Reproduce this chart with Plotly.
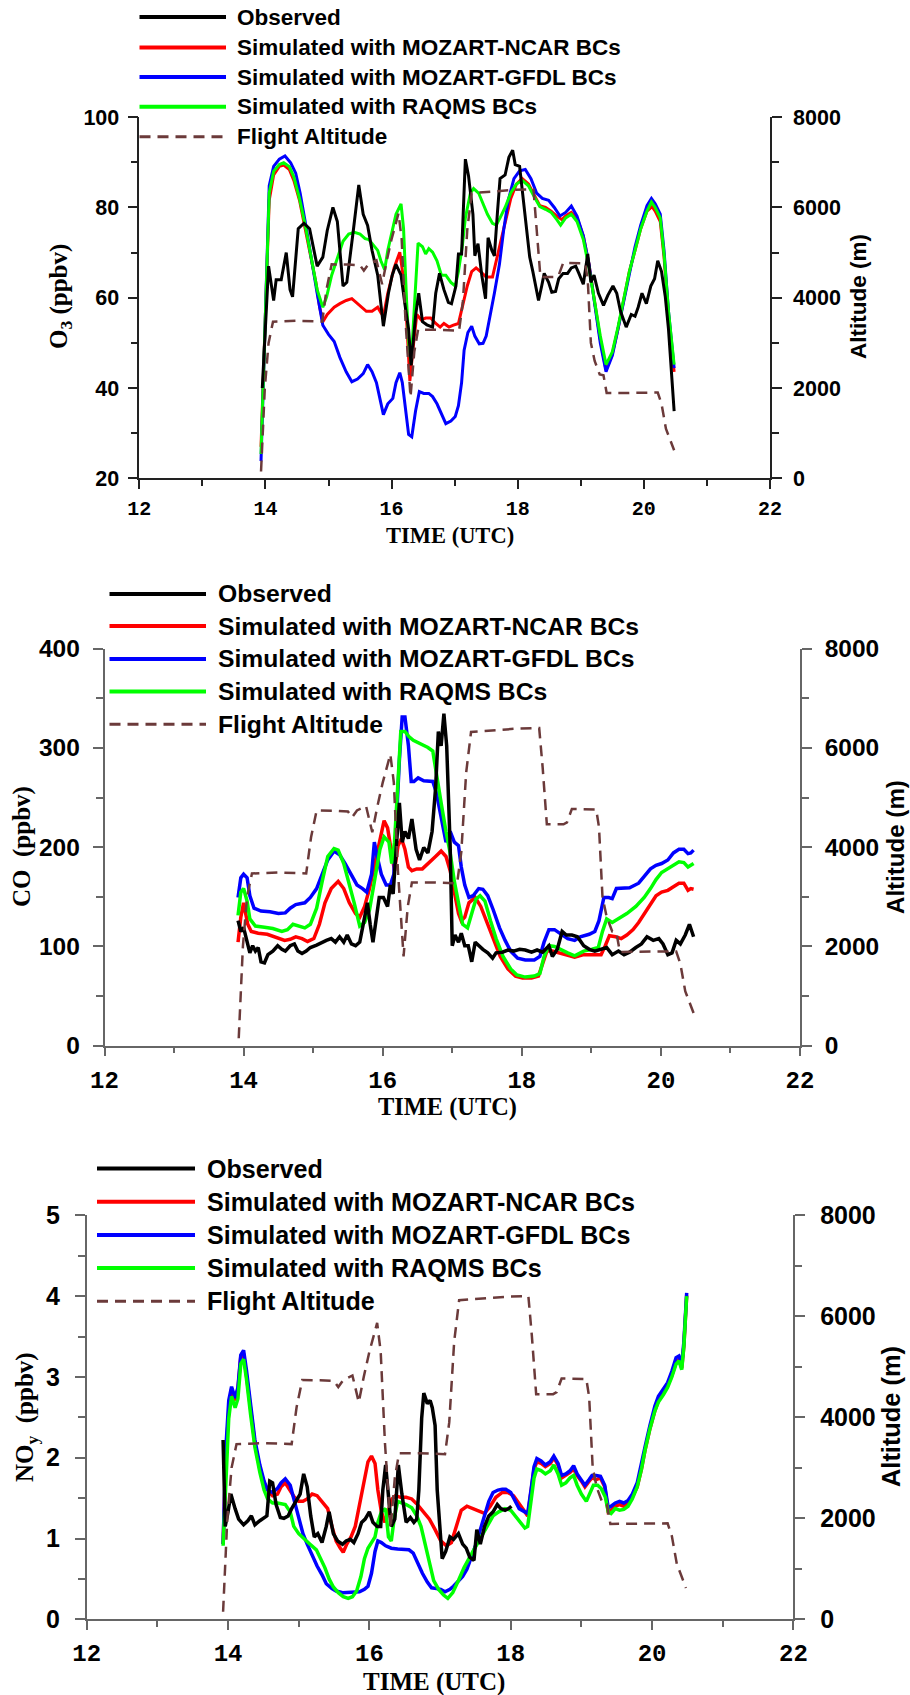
import plotly.graph_objects as go

W, H = 910, 1695

# ---------------- DATA (time in UTC hours) ----------------
legend_labels = ["Observed", "Simulated with MOZART-NCAR BCs",
                 "Simulated with MOZART-GFDL BCs", "Simulated with RAQMS BCs",
                 "Flight Altitude"]

flight_time = [13.93, 13.99, 14.05, 14.12, 14.50, 14.90, 14.97, 15.05, 15.30, 15.50, 15.56, 15.63,
               15.76, 15.85, 15.92, 16.00, 16.11, 16.16, 16.22, 16.30, 16.36, 16.42, 16.70, 17.07,
               17.13, 17.20, 17.27, 17.60, 17.95, 18.25, 18.30, 18.36, 18.60, 18.65, 18.72, 19.07,
               19.11, 19.16, 19.22, 19.30, 19.36, 19.41, 19.70, 20.00, 20.22, 20.28, 20.35, 20.48]
flight_altitude = [150, 2000, 3000, 3470, 3490, 3470, 4200, 4740, 4735, 4720, 4600, 4740,
                   4830, 4300, 4800, 5300, 5870, 5300, 3500, 1800, 2800, 3290, 3290, 3270,
                   3900, 5500, 6320, 6360, 6390, 6400, 5600, 4460, 4460, 4500, 4770, 4760,
                   4400, 3000, 2600, 2300, 2280, 1890, 1890, 1890, 1900, 1650, 1100, 620]

# O3 (ppbv)
o3_observed = [(13.95, 40), (14.05, 67), (14.13, 59.4), (14.17, 64), (14.25, 64), (14.33, 70), (14.39, 61.8),
    (14.43, 60.2), (14.52, 75.3), (14.61, 76.5), (14.70, 75.3), (14.82, 67), (14.91, 69), (14.98, 74.9),
    (15.07, 80), (15.14, 76.9), (15.23, 62.6), (15.29, 63.4), (15.39, 74.5), (15.48, 85), (15.55, 78.5),
    (15.62, 76), (15.69, 70.5), (15.78, 65), (15.83, 58.7), (15.87, 53.7), (15.95, 61), (16.01, 65),
    (16.07, 67.4), (16.15, 65), (16.21, 58.7), (16.27, 53), (16.31, 45), (16.38, 56), (16.43, 61),
    (16.49, 54.7), (16.56, 54), (16.65, 53.5), (16.70, 61), (16.76, 65.4), (16.83, 61.8), (16.90, 59),
    (16.95, 58.7), (17.02, 62.6), (17.06, 69.7), (17.11, 69.7), (17.17, 90.7), (17.22, 87), (17.29, 78.5),
    (17.32, 69.3), (17.37, 72), (17.43, 65), (17.49, 59.8), (17.53, 73.3), (17.59, 70.5), (17.63, 69.3),
    (17.68, 79.2), (17.72, 86.4), (17.80, 87.2), (17.86, 91.1), (17.92, 92.7), (17.96, 89.5), (18.03, 89.1),
    (18.09, 81.6), (18.15, 75.3), (18.19, 69), (18.24, 65.8), (18.28, 62.6), (18.33, 59.4), (18.38, 62.6),
    (18.42, 65.4), (18.49, 63.4), (18.54, 61.2), (18.60, 61.4), (18.65, 64.2), (18.72, 65.4), (18.79, 65.4),
    (18.85, 66.6), (18.92, 67), (18.97, 65.4), (19.04, 63), (19.11, 69.7), (19.16, 63.4), (19.21, 65),
    (19.28, 61), (19.36, 58.3), (19.43, 60.6), (19.51, 62.6), (19.57, 61), (19.63, 57), (19.72, 53.5),
    (19.80, 56.3), (19.86, 55.9), (19.91, 57.9), (19.97, 61), (20.04, 58.7), (20.11, 62.6), (20.17, 64.2),
    (20.22, 68.2), (20.28, 65.8), (20.34, 60.2), (20.39, 53.1), (20.43, 44.4), (20.48, 34.9)]
o3_ncar = [(13.93, 27), (13.99, 50.7), (14.06, 81.6), (14.13, 87.2), (14.22, 89.1), (14.29, 89.4), (14.38, 88.4),
    (14.45, 86), (14.54, 81.6), (14.63, 75.3), (14.72, 69), (14.80, 63.4), (14.86, 57.9), (14.91, 54.7),
    (14.98, 56.3), (15.09, 57.9), (15.18, 58.7), (15.28, 59.4), (15.37, 59.8), (15.44, 59), (15.52, 57.9),
    (15.60, 57), (15.69, 57), (15.78, 57.9), (15.83, 56.7), (15.87, 55.9), (15.94, 61), (16.04, 66.6),
    (16.13, 70.1), (16.19, 64.2), (16.24, 54.7), (16.29, 41.6), (16.35, 50), (16.40, 56.3), (16.47, 55.1),
    (16.54, 55.5), (16.62, 55.5), (16.70, 54.3), (16.77, 53.5), (16.83, 54.3), (16.91, 53.5), (16.97, 53.9),
    (17.06, 54.3), (17.13, 58.7), (17.20, 62.6), (17.27, 65.8), (17.34, 66.6), (17.41, 65.8), (17.50, 64.6),
    (17.60, 64.6), (17.66, 68.2), (17.72, 72.1), (17.80, 76.9), (17.89, 82), (17.98, 85.2), (18.07, 86.4),
    (18.17, 85.2), (18.26, 82.8), (18.35, 80.4), (18.44, 80), (18.53, 79.2), (18.62, 78.1), (18.70, 77.3),
    (18.76, 78.1), (18.85, 78.9), (18.94, 77.7), (19.04, 73.7), (19.13, 67.4), (19.22, 59.4), (19.31, 50.7),
    (19.40, 44), (19.50, 47.6), (19.59, 53.1), (19.68, 59.4), (19.77, 65.8), (19.86, 70.5), (19.95, 75.3),
    (20.05, 79.2), (20.13, 80.2), (20.18, 79.2), (20.26, 76.9), (20.32, 69), (20.39, 56.3), (20.48, 43.6)]
o3_gfdl = [(13.93, 23.8), (13.99, 50), (14.06, 84.8), (14.13, 89.1), (14.22, 90.7), (14.31, 91.4), (14.40, 89.9),
    (14.48, 87.6), (14.55, 83.2), (14.63, 76.9), (14.72, 69), (14.82, 61), (14.91, 53.9), (15.00, 51.9),
    (15.09, 50.3), (15.18, 46.8), (15.28, 43.6), (15.37, 41.4), (15.46, 42), (15.55, 43.2), (15.62, 45.2),
    (15.69, 43.6), (15.76, 41.2), (15.82, 37.3), (15.87, 34.1), (15.94, 36.5), (16.02, 37.7), (16.07, 41.2),
    (16.13, 43.4), (16.17, 41.2), (16.22, 34.9), (16.27, 29.7), (16.32, 29.2), (16.38, 34.9), (16.44, 39.2),
    (16.51, 38.8), (16.59, 38.8), (16.65, 38.1), (16.72, 36.5), (16.79, 34.1), (16.86, 32.1), (16.94, 32.7),
    (17.01, 33.7), (17.06, 36.1), (17.11, 41.2), (17.15, 48.4), (17.21, 52.3), (17.27, 53.7), (17.32, 51.5),
    (17.39, 49.8), (17.45, 49.9), (17.50, 51.5), (17.57, 56.3), (17.63, 61), (17.71, 67.4), (17.78, 75.3),
    (17.85, 81.6), (17.94, 86.4), (18.03, 88.1), (18.12, 88.4), (18.21, 86.4), (18.30, 83.2), (18.39, 82),
    (18.49, 81.6), (18.58, 80), (18.67, 78.1), (18.76, 78.9), (18.85, 80.3), (18.94, 78.1), (19.04, 73.7),
    (19.13, 67.4), (19.22, 58.7), (19.31, 49.9), (19.40, 43.6), (19.50, 47.2), (19.59, 53.1), (19.68, 59.4),
    (19.77, 65.8), (19.86, 71.3), (19.95, 76.1), (20.05, 80.4), (20.12, 82), (20.18, 80.8), (20.26, 78.5),
    (20.32, 70.5), (20.39, 57.1), (20.48, 44.4)]
o3_raqms = [(13.93, 25.4), (13.99, 50.7), (14.06, 83.2), (14.13, 88), (14.22, 89.5), (14.29, 89.9), (14.38, 89),
    (14.45, 86.8), (14.54, 82), (14.63, 76.1), (14.72, 69), (14.82, 61.8), (14.91, 57.9), (14.97, 60.2),
    (15.05, 65), (15.14, 69), (15.23, 72.5), (15.32, 74.1), (15.41, 74.5), (15.50, 74.1), (15.58, 73.1),
    (15.64, 72.9), (15.71, 71.7), (15.78, 70.5), (15.83, 68.2), (15.89, 66.2), (15.94, 70.5), (16.01, 74.5),
    (16.07, 78.5), (16.15, 80.8), (16.19, 75.3), (16.24, 58.7), (16.28, 48.4), (16.31, 45.6), (16.37, 58.7),
    (16.42, 72.1), (16.49, 71.3), (16.54, 69.7), (16.59, 70.9), (16.65, 70.1), (16.72, 68.2), (16.79, 65),
    (16.86, 65), (16.94, 63.4), (17.01, 62.6), (17.06, 65.8), (17.12, 71.3), (17.17, 77.7), (17.25, 83.2),
    (17.30, 84.2), (17.38, 83.2), (17.45, 80.8), (17.52, 78.5), (17.60, 76.5), (17.66, 76.1), (17.72, 77.7),
    (17.80, 80), (17.89, 83.2), (17.98, 85.2), (18.07, 86), (18.17, 84.8), (18.26, 82.4), (18.35, 80.2),
    (18.44, 79.6), (18.53, 78.9), (18.62, 77.3), (18.68, 76.1), (18.76, 77.7), (18.85, 78.5), (18.94, 76.9),
    (19.04, 72.9), (19.13, 66.6), (19.22, 58.7), (19.31, 51.5), (19.40, 45.2), (19.50, 48), (19.59, 53.5),
    (19.68, 59.4), (19.77, 65.8), (19.86, 70.5), (19.95, 75.3), (20.05, 79.2), (20.12, 81.2), (20.18, 80),
    (20.26, 77.7), (20.32, 69.7), (20.39, 57.1), (20.48, 45.2)]

# CO (ppbv)
co_observed = [(13.92, 126), (13.96, 115), (14.00, 119), (14.05, 102.5), (14.09, 93.5), (14.13, 100.7),
    (14.17, 95.3), (14.21, 98.9), (14.25, 84.5), (14.30, 83.5), (14.35, 91.7), (14.42, 95.3), (14.49, 100.7),
    (14.55, 97.1), (14.60, 95.3), (14.67, 100.7), (14.73, 102.5), (14.78, 95.3), (14.84, 92.8), (14.90, 95.3),
    (14.96, 98.9), (15.05, 101.4), (15.13, 104.3), (15.19, 106.1), (15.26, 107.9), (15.32, 104.3),
    (15.38, 109.7), (15.44, 104.3), (15.49, 111.5), (15.55, 102.5), (15.61, 100.7), (15.67, 104.3),
    (15.74, 129.5), (15.78, 143.9), (15.82, 122.3), (15.86, 104.3), (15.91, 129.5), (15.95, 149.3),
    (16.01, 149.3), (16.07, 140.3), (16.11, 161.9), (16.15, 152.9), (16.19, 194.2), (16.24, 244.6),
    (16.28, 205), (16.32, 215.8), (16.37, 208.6), (16.42, 228.4), (16.48, 197.8), (16.53, 187), (16.59, 199.6),
    (16.65, 194.2), (16.71, 215.8), (16.76, 259), (16.80, 316.5), (16.84, 302), (16.88, 334.5), (16.92, 302),
    (16.97, 201), (17.00, 100.7), (17.04, 111.5), (17.09, 104.3), (17.13, 113.3), (17.18, 100.7),
    (17.23, 100.7), (17.28, 84.5), (17.33, 104.3), (17.38, 100.7), (17.44, 97.1), (17.51, 93.5), (17.58, 88.1),
    (17.63, 93.5), (17.72, 94.2), (17.80, 96.4), (17.88, 95.3), (17.97, 97.1), (18.05, 96.4), (18.14, 94.2),
    (18.22, 96.4), (18.30, 94.2), (18.39, 100.7), (18.44, 89.9), (18.51, 97.1), (18.58, 115.1), (18.64, 111.5),
    (18.72, 111.5), (18.80, 109.7), (18.89, 100.7), (18.97, 97.1), (19.05, 95.3), (19.14, 97.1), (19.22, 98.9),
    (19.30, 91.7), (19.39, 95.3), (19.47, 91.7), (19.55, 94.2), (19.64, 98.9), (19.72, 102.5), (19.80, 109.7),
    (19.89, 106.1), (19.97, 107.9), (20.03, 102.5), (20.10, 91.7), (20.16, 93.5), (20.22, 106.1),
    (20.28, 102.5), (20.35, 111.5), (20.41, 122.3), (20.47, 109.7)]
co_ncar = [(13.92, 104.3), (13.96, 129.5), (14.00, 143.9), (14.06, 122.3), (14.11, 115.1), (14.21, 113.3),
    (14.34, 112.2), (14.46, 109.7), (14.59, 106.1), (14.67, 107.2), (14.75, 109.7), (14.84, 107.9), (14.92, 105),
    (15.01, 107.9), (15.09, 122.3), (15.17, 143.9), (15.26, 158.3), (15.36, 165.5), (15.44, 158.3),
    (15.52, 143.9), (15.61, 133.1), (15.67, 129.5), (15.74, 140.3), (15.81, 158.3), (15.88, 179.9),
    (15.96, 205), (16.02, 226.6), (16.07, 219.4), (16.13, 194.2), (16.17, 176.3), (16.22, 201.4),
    (16.27, 208.6), (16.32, 197.8), (16.37, 179.9), (16.42, 176.3), (16.49, 178.1), (16.57, 178.1),
    (16.66, 183.5), (16.76, 190.6), (16.84, 196), (16.91, 190.6), (16.97, 176.3), (17.03, 154.7),
    (17.09, 133.1), (17.13, 125.9), (17.18, 129.5), (17.24, 143.9), (17.33, 149.3), (17.41, 140.3),
    (17.49, 125.9), (17.59, 107.9), (17.69, 89.9), (17.80, 77.3), (17.91, 70.1), (18.01, 68.3), (18.14, 68.3),
    (18.24, 70.1), (18.30, 82.7), (18.36, 95.3), (18.44, 95.3), (18.55, 93.5), (18.66, 91.7), (18.76, 89.2),
    (18.89, 91.7), (19.01, 91.7), (19.14, 91.7), (19.20, 100.7), (19.26, 110.8), (19.35, 109.7), (19.43, 107.9),
    (19.51, 111.5), (19.60, 116.9), (19.68, 124.1), (19.76, 133.1), (19.85, 142.1), (19.93, 151.1),
    (20.01, 154.7), (20.10, 156.5), (20.18, 160.1), (20.26, 163.7), (20.33, 163.7), (20.39, 156.5),
    (20.43, 158.3), (20.47, 157.6)]
co_gfdl = [(13.92, 149.3), (13.96, 169.1), (14.00, 172.7), (14.05, 169.1), (14.09, 151.1), (14.15, 138.5),
    (14.25, 135.6), (14.38, 134.9), (14.50, 133.1), (14.60, 133.8), (14.67, 138.5), (14.75, 142.1),
    (14.88, 143.9), (14.96, 149.3), (15.05, 158.3), (15.13, 172.7), (15.21, 187.1), (15.30, 196), (15.38, 192.4),
    (15.46, 183.5), (15.55, 172.7), (15.63, 161.9), (15.71, 158.3), (15.77, 154.7), (15.84, 172.7), (15.88, 205),
    (15.92, 190.6), (15.98, 172.7), (16.05, 161.9), (16.11, 161.9), (16.16, 172.7), (16.20, 237.4),
    (16.24, 287.8), (16.28, 331), (16.32, 331), (16.37, 302.2), (16.41, 266.2), (16.45, 266.2), (16.51, 269.8),
    (16.59, 266.9), (16.72, 266.2), (16.77, 255.4), (16.84, 230.2), (16.91, 205), (16.97, 215.8), (17.03, 205),
    (17.09, 201.4), (17.13, 179.9), (17.18, 161.9), (17.24, 149.3), (17.30, 151.1), (17.38, 158.3),
    (17.44, 157.6), (17.51, 151.1), (17.59, 136.7), (17.68, 118.7), (17.76, 106.1), (17.84, 95.3), (17.94, 88.1),
    (18.05, 86.3), (18.18, 86.3), (18.26, 89.9), (18.32, 104.3), (18.39, 116.9), (18.47, 116.9), (18.55, 113.3),
    (18.66, 107.9), (18.76, 106.1), (18.84, 109.7), (18.97, 112.2), (19.05, 115.1), (19.11, 125.9),
    (19.18, 149.3), (19.25, 149.3), (19.30, 148.2), (19.36, 158.3), (19.45, 158.3), (19.55, 159), (19.68, 163.7),
    (19.76, 170.9), (19.85, 178.1), (19.93, 181.7), (20.01, 183.5), (20.10, 187.1), (20.18, 194.2),
    (20.26, 197.8), (20.33, 197.8), (20.39, 193.5), (20.43, 194.2), (20.47, 197)]
co_raqms = [(13.92, 131.3), (13.96, 154.7), (14.00, 158.3), (14.05, 145.7), (14.09, 127.7), (14.17, 120.5),
    (14.30, 119.4), (14.42, 118), (14.55, 115.1), (14.63, 116.9), (14.71, 122.3), (14.80, 120.5), (14.88, 118.7),
    (14.96, 122.3), (15.05, 138.5), (15.13, 165.5), (15.21, 190.6), (15.30, 198.6), (15.36, 197.1),
    (15.44, 183.5), (15.51, 165.5), (15.59, 143.9), (15.67, 120.5), (15.74, 124.1), (15.81, 136.7),
    (15.88, 165.5), (15.96, 197.8), (16.02, 210.4), (16.09, 205), (16.13, 183.5), (16.17, 205), (16.22, 266.2),
    (16.26, 316.5), (16.32, 316.5), (16.38, 311.2), (16.44, 307.6), (16.55, 304), (16.65, 300.4), (16.72, 296.8),
    (16.77, 273.4), (16.84, 244.6), (16.91, 215.8), (16.97, 194.2), (17.03, 165.5), (17.09, 143.9),
    (17.15, 122.3), (17.22, 118.7), (17.28, 133.1), (17.34, 147.5), (17.40, 151.1), (17.47, 145.7),
    (17.55, 125.9), (17.63, 107.9), (17.73, 89.9), (17.84, 77.3), (17.93, 71.2), (18.05, 69.1), (18.18, 70.1),
    (18.26, 72.7), (18.32, 89.9), (18.39, 100.7), (18.47, 100), (18.55, 97.1), (18.66, 93.5), (18.76, 90.6),
    (18.89, 95.3), (19.01, 97.1), (19.10, 98.9), (19.16, 115.1), (19.22, 127.7), (19.30, 124.1), (19.39, 127.7),
    (19.51, 133.1), (19.64, 140.3), (19.76, 149.3), (19.85, 158.3), (19.93, 167.3), (20.01, 174.5),
    (20.10, 178.1), (20.18, 181.7), (20.26, 185.3), (20.33, 184.5), (20.39, 179.9), (20.43, 181.7),
    (20.47, 183.5)]

# NOy (ppbv)
noy_observed = [(13.93, 2.22), (13.96, 1.15), (14.00, 1.33), (14.04, 1.55), (14.10, 1.37), (14.15, 1.24),
    (14.22, 1.17), (14.28, 1.22), (14.33, 1.28), (14.38, 1.17), (14.45, 1.22), (14.51, 1.26), (14.55, 1.28),
    (14.59, 1.71), (14.63, 1.69), (14.68, 1.42), (14.74, 1.26), (14.79, 1.25), (14.85, 1.28), (14.90, 1.37),
    (14.96, 1.46), (15.02, 1.55), (15.07, 1.8), (15.12, 1.64), (15.17, 1.28), (15.22, 1.02), (15.27, 1.06),
    (15.33, 0.95), (15.39, 1.15), (15.43, 1.33), (15.49, 1.06), (15.55, 0.97), (15.62, 0.93), (15.67, 0.97),
    (15.73, 0.99), (15.78, 0.95), (15.84, 1.06), (15.89, 1.2), (15.94, 1.24), (16.00, 1.33), (16.05, 1.2),
    (16.11, 1.15), (16.16, 1.15), (16.19, 1.6), (16.23, 1.91), (16.27, 1.55), (16.31, 1.15), (16.36, 1.24),
    (16.41, 1.91), (16.46, 1.55), (16.52, 1.2), (16.58, 1.26), (16.63, 1.2), (16.67, 1.24), (16.70, 1.6),
    (16.74, 2.49), (16.77, 2.8), (16.82, 2.67), (16.86, 2.71), (16.89, 2.62), (16.93, 2.4), (16.96, 1.6),
    (17.00, 1.15), (17.03, 0.75), (17.08, 0.84), (17.14, 1.02), (17.19, 0.99), (17.26, 1.06), (17.32, 0.93),
    (17.37, 0.88), (17.42, 0.77), (17.48, 0.73), (17.52, 1.11), (17.57, 0.93), (17.63, 1.15), (17.69, 1.28),
    (17.75, 1.33), (17.81, 1.42), (17.86, 1.37), (17.92, 1.35), (17.97, 1.37), (18.01, 1.4)]
noy_ncar = [(13.93, 0.93), (13.97, 2.04), (14.01, 2.58), (14.05, 2.85), (14.10, 2.71), (14.14, 2.85),
    (14.18, 3.25), (14.22, 3.29), (14.26, 3.02), (14.32, 2.58), (14.38, 2.18), (14.45, 1.86), (14.51, 1.69),
    (14.56, 1.6), (14.63, 1.53), (14.70, 1.55), (14.75, 1.64), (14.81, 1.69), (14.88, 1.6), (14.94, 1.51),
    (15.00, 1.46), (15.06, 1.46), (15.12, 1.49), (15.19, 1.55), (15.26, 1.53), (15.33, 1.46), (15.41, 1.37),
    (15.47, 1.15), (15.53, 0.97), (15.59, 0.88), (15.63, 0.83), (15.68, 0.93), (15.74, 1.02), (15.80, 1.15),
    (15.86, 1.42), (15.93, 1.78), (15.98, 1.95), (16.03, 2.02), (16.08, 1.93), (16.12, 1.6), (16.17, 1.33),
    (16.22, 1.2), (16.27, 1.33), (16.32, 1.49), (16.37, 1.53), (16.44, 1.51), (16.52, 1.51), (16.60, 1.49),
    (16.68, 1.42), (16.77, 1.33), (16.85, 1.24), (16.93, 1.11), (17.01, 0.97), (17.09, 0.91), (17.16, 0.95),
    (17.23, 1.15), (17.30, 1.35), (17.38, 1.4), (17.46, 1.37), (17.55, 1.33), (17.63, 1.31), (17.71, 1.4),
    (17.79, 1.51), (17.88, 1.57), (17.96, 1.57), (18.04, 1.53), (18.12, 1.42), (18.20, 1.33), (18.24, 1.28),
    (18.29, 1.6), (18.33, 1.86), (18.37, 1.95), (18.43, 1.93), (18.49, 1.89), (18.56, 1.93), (18.61, 2.0),
    (18.67, 1.91), (18.72, 1.75), (18.78, 1.78), (18.84, 1.82), (18.89, 1.86), (18.94, 1.78), (19.00, 1.71),
    (19.05, 1.64), (19.11, 1.71), (19.15, 1.75), (19.21, 1.73), (19.27, 1.75), (19.33, 1.64), (19.38, 1.33),
    (19.42, 1.35), (19.48, 1.4), (19.54, 1.42), (19.60, 1.4), (19.66, 1.44), (19.72, 1.51), (19.79, 1.64),
    (19.85, 1.86), (19.90, 2.09), (19.97, 2.36), (20.04, 2.58), (20.09, 2.71), (20.16, 2.8), (20.22, 2.89),
    (20.28, 3.02), (20.34, 3.18), (20.38, 3.22), (20.42, 3.11), (20.45, 3.38), (20.49, 4.01)]
noy_gfdl = [(13.93, 0.93), (13.97, 2.13), (14.01, 2.71), (14.05, 2.88), (14.10, 2.74), (14.14, 2.87),
    (14.18, 3.27), (14.22, 3.33), (14.26, 3.09), (14.32, 2.64), (14.38, 2.22), (14.45, 1.91), (14.51, 1.71),
    (14.56, 1.6), (14.63, 1.57), (14.70, 1.62), (14.75, 1.69), (14.81, 1.74), (14.88, 1.66), (14.94, 1.46),
    (15.00, 1.24), (15.06, 1.06), (15.12, 0.93), (15.19, 0.79), (15.26, 0.66), (15.33, 0.55), (15.39, 0.44),
    (15.47, 0.38), (15.53, 0.35), (15.62, 0.33), (15.70, 0.33), (15.78, 0.34), (15.86, 0.34), (15.93, 0.37),
    (15.98, 0.41), (16.03, 0.57), (16.08, 0.84), (16.12, 0.97), (16.17, 0.95), (16.23, 0.91), (16.31, 0.88),
    (16.40, 0.87), (16.48, 0.87), (16.56, 0.86), (16.62, 0.82), (16.68, 0.7), (16.75, 0.57), (16.82, 0.46),
    (16.88, 0.39), (16.95, 0.38), (17.01, 0.37), (17.07, 0.34), (17.14, 0.37), (17.19, 0.41), (17.26, 0.48),
    (17.32, 0.53), (17.38, 0.62), (17.44, 0.75), (17.51, 0.93), (17.57, 1.11), (17.63, 1.28), (17.69, 1.46),
    (17.75, 1.57), (17.82, 1.6), (17.88, 1.61), (17.93, 1.61), (18.00, 1.57), (18.06, 1.46), (18.12, 1.37),
    (18.20, 1.33), (18.24, 1.31), (18.29, 1.62), (18.33, 1.89), (18.37, 1.99), (18.43, 1.96), (18.49, 1.91),
    (18.56, 1.95), (18.61, 2.02), (18.67, 1.93), (18.72, 1.78), (18.78, 1.8), (18.84, 1.84), (18.89, 1.9),
    (18.94, 1.8), (19.00, 1.72), (19.05, 1.66), (19.11, 1.73), (19.15, 1.78), (19.21, 1.78), (19.27, 1.77),
    (19.33, 1.66), (19.38, 1.38), (19.42, 1.4), (19.48, 1.44), (19.54, 1.46), (19.60, 1.44), (19.66, 1.47),
    (19.72, 1.55), (19.79, 1.69), (19.85, 1.91), (19.90, 2.13), (19.97, 2.4), (20.04, 2.64), (20.09, 2.76),
    (20.16, 2.85), (20.22, 2.93), (20.28, 3.07), (20.34, 3.24), (20.38, 3.26), (20.42, 3.16), (20.45, 3.43),
    (20.49, 4.04)]
noy_raqms = [(13.93, 0.91), (13.97, 1.82), (14.01, 2.49), (14.05, 2.76), (14.10, 2.62), (14.14, 2.73),
    (14.18, 3.16), (14.22, 3.22), (14.26, 2.98), (14.32, 2.53), (14.38, 2.13), (14.45, 1.82), (14.51, 1.6),
    (14.56, 1.49), (14.63, 1.44), (14.70, 1.44), (14.75, 1.43), (14.81, 1.42), (14.88, 1.33), (14.93, 1.15),
    (15.00, 1.06), (15.08, 0.99), (15.16, 0.93), (15.25, 0.86), (15.31, 0.75), (15.37, 0.64), (15.43, 0.5),
    (15.49, 0.4), (15.56, 0.33), (15.63, 0.28), (15.70, 0.26), (15.76, 0.28), (15.82, 0.35), (15.88, 0.53),
    (15.93, 0.75), (15.98, 0.88), (16.03, 0.95), (16.08, 1.02), (16.12, 1.2), (16.17, 1.33), (16.23, 1.37),
    (16.27, 1.02), (16.31, 0.97), (16.35, 1.24), (16.40, 1.46), (16.46, 1.44), (16.52, 1.42), (16.60, 1.38),
    (16.67, 1.28), (16.73, 1.15), (16.79, 0.93), (16.85, 0.7), (16.91, 0.48), (16.98, 0.37), (17.05, 0.3),
    (17.11, 0.26), (17.18, 0.33), (17.26, 0.48), (17.34, 0.64), (17.42, 0.77), (17.51, 0.91), (17.59, 1.04),
    (17.67, 1.17), (17.75, 1.28), (17.83, 1.33), (17.92, 1.37), (18.00, 1.35), (18.06, 1.28), (18.14, 1.2),
    (18.20, 1.13), (18.24, 1.15), (18.29, 1.46), (18.33, 1.75), (18.37, 1.86), (18.43, 1.84), (18.49, 1.8),
    (18.56, 1.84), (18.61, 1.91), (18.67, 1.8), (18.72, 1.66), (18.78, 1.69), (18.84, 1.75), (18.89, 1.78),
    (18.94, 1.66), (19.00, 1.55), (19.07, 1.46), (19.12, 1.55), (19.17, 1.66), (19.23, 1.66), (19.28, 1.62),
    (19.34, 1.51), (19.38, 1.33), (19.42, 1.31), (19.48, 1.37), (19.54, 1.35), (19.60, 1.36), (19.66, 1.4),
    (19.72, 1.49), (19.79, 1.64), (19.85, 1.86), (19.90, 2.09), (19.97, 2.36), (20.04, 2.58), (20.09, 2.69),
    (20.16, 2.78), (20.22, 2.87), (20.28, 3.0), (20.34, 3.16), (20.38, 3.2), (20.42, 3.09), (20.45, 3.38),
    (20.49, 4.0)]

# ---------------- STYLE / LAYOUT ----------------
COLORS = {"obs": "#000000", "ncar": "#ff0000", "gfdl": "#0000ff", "raqms": "#00ff00", "alt": "#6b3a3a"}
SANS, SERIF, MONO = "Liberation Sans", "Liberation Serif", "Liberation Mono"


def px_x(px):
    return px / W


def px_y(py):
    return 1 - py / H


panels = [
    dict(series={"obs": o3_observed, "ncar": o3_ncar, "gfdl": o3_gfdl, "raqms": o3_raqms},
         box=(139.3, 770.0, 117.2, 478.3), yrange=[20, 100], dtick=20, minor=10,
         axcolor="#222222", tick_fs=21.5, xtick_fs=20, title_fs=22.5, leg_fs=22.5, lw=3,
         xstand=2, lstand=4, rstand=7,
         ytitle="O<sub>3</sub> (ppbv)", ytitle_pos=(60, 297), xtitle_pos=(450, 535), rtitle_pos=(858, 297),
         ytitle_fs=25, rtitle_fs=22.5,
         leg_line=(139.5, 226), leg_text=235, leg_rows=[17.1, 47.5, 77.1, 106.8, 136.8]),
    dict(series={"obs": co_observed, "ncar": co_ncar, "gfdl": co_gfdl, "raqms": co_raqms},
         box=(104.5, 800.0, 648.6, 1045.7), yrange=[0, 400], dtick=100, minor=50,
         axcolor="#666666", tick_fs=24.5, xtick_fs=24, title_fs=24.4, leg_fs=24.7, lw=3.5,
         xstand=3, lstand=8, rstand=8,
         ytitle="CO  (ppbv)", ytitle_pos=(22, 847), xtitle_pos=(447, 1107), rtitle_pos=(895, 847),
         ytitle_fs=25, rtitle_fs=24.1,
         leg_line=(109.5, 206), leg_text=216, leg_rows=[593.9, 626.1, 658.9, 691.4, 724.3]),
    dict(series={"obs": noy_observed, "ncar": noy_ncar, "gfdl": noy_gfdl, "raqms": noy_raqms},
         box=(86.7, 793.4, 1215.4, 1619.3), yrange=[0, 5], dtick=1, minor=0.5,
         axcolor="#666666", tick_fs=25, xtick_fs=24, title_fs=25, leg_fs=25.1, lw=3.5,
         xstand=2, lstand=10, rstand=10,
         ytitle="NO<sub>y</sub>  (ppbv)", ytitle_pos=(26, 1417), xtitle_pos=(434, 1682), rtitle_pos=(891, 1417),
         ytitle_fs=25, rtitle_fs=25.4,
         leg_line=(97, 195), leg_text=205, leg_rows=[1168.6, 1201.7, 1234.9, 1268.0, 1301.2]),
]

fig = go.Figure()
shapes, annotations = [], []
layout = dict(width=W, height=H, margin=dict(l=0, r=0, t=0, b=0),
              paper_bgcolor="white", plot_bgcolor="white", showlegend=False,
              template="none")

order = ["ncar", "gfdl", "raqms", "obs"]
keys_all = ["obs", "ncar", "gfdl", "raqms"]
for i, p in enumerate(panels):
    xn = "x" if i == 0 else f"x{i + 1}"
    yl = "y" if i == 0 else f"y{2 * i + 1}"
    yr = f"y{2 * i + 2}"
    xl, xr_, yt, yb = p["box"]
    ac = p["axcolor"]
    fig.add_trace(go.Scatter(x=flight_time, y=flight_altitude, mode="lines", xaxis=xn, yaxis=yr,
                             name=legend_labels[4],
                             line=dict(color=COLORS["alt"], width=2.5, dash="11px,7px")))
    for key in order:
        tx = [a for a, _ in p["series"][key]]
        vy = [b for _, b in p["series"][key]]
        fig.add_trace(go.Scatter(x=tx, y=vy, mode="lines", xaxis=xn, yaxis=yl,
                                 name=legend_labels[keys_all.index(key)],
                                 line=dict(color=COLORS[key], width=p["lw"])))

    xkey = "xaxis" if i == 0 else f"xaxis{i + 1}"
    ylkey = "yaxis" if i == 0 else f"yaxis{2 * i + 1}"
    yrkey = f"yaxis{2 * i + 2}"
    common = dict(showgrid=False, zeroline=False, showline=True, linecolor=ac, linewidth=1.5,
                  ticks="outside", tickcolor=ac, tickwidth=1.5)
    layout[xkey] = dict(common, domain=[px_x(xl), px_x(xr_)], range=[12, 22], dtick=2, tick0=12,
                        ticklen=9, anchor=yl,
                        minor=dict(dtick=1, ticklen=6, ticks="outside", tickcolor=ac, tickwidth=1.5),
                        tickfont=dict(family=MONO, size=p["xtick_fs"], color="black", weight="bold"),
                        ticklabelstandoff=p["xstand"])
    layout[ylkey] = dict(common, domain=[px_y(yb), px_y(yt)], range=p["yrange"], dtick=p["dtick"],
                         tick0=0, ticklen=10, anchor=xn, side="left",
                         minor=dict(dtick=p["minor"], ticklen=7, ticks="outside", tickcolor=ac, tickwidth=1.5),
                         tickfont=dict(family=SANS, size=p["tick_fs"], color="black", weight="bold"),
                         ticklabelstandoff=p["lstand"])
    layout[yrkey] = dict(common, overlaying=yl, side="right", anchor=xn, range=[0, 8000], dtick=2000,
                         tick0=0, ticklen=10,
                         minor=dict(dtick=1000, ticklen=7, ticks="outside", tickcolor=ac, tickwidth=1.5),
                         tickfont=dict(family=SANS, size=p["tick_fs"], color="black", weight="bold"),
                         ticklabelstandoff=p["rstand"])

    annotations.append(dict(text="TIME (UTC)", x=px_x(p["xtitle_pos"][0]), y=px_y(p["xtitle_pos"][1]),
                            xref="paper", yref="paper", showarrow=False, xanchor="center", yanchor="middle",
                            font=dict(family=SERIF, size=p["title_fs"], color="black", weight="bold")))
    annotations.append(dict(text=p["ytitle"], x=px_x(p["ytitle_pos"][0]), y=px_y(p["ytitle_pos"][1]),
                            xref="paper", yref="paper", showarrow=False, textangle=-90,
                            xanchor="center", yanchor="middle",
                            font=dict(family=SERIF, size=p["ytitle_fs"], color="black", weight="bold")))
    annotations.append(dict(text="Altitude (m)", x=px_x(p["rtitle_pos"][0]), y=px_y(p["rtitle_pos"][1]),
                            xref="paper", yref="paper", showarrow=False, textangle=-90,
                            xanchor="center", yanchor="middle",
                            font=dict(family=SANS, size=p["rtitle_fs"], color="black", weight="bold")))

    leg_keys = ["obs", "ncar", "gfdl", "raqms", "alt"]
    for k, (key, row) in enumerate(zip(leg_keys, p["leg_rows"])):
        line = dict(color=COLORS[key], width=4 if key != "alt" else 3)
        if key == "alt":
            line["dash"] = "11px,7px"
        shapes.append(dict(type="line", xref="paper", yref="paper",
                           x0=px_x(p["leg_line"][0]), x1=px_x(p["leg_line"][1]),
                           y0=px_y(row), y1=px_y(row), line=line))
        annotations.append(dict(text=legend_labels[k], x=px_x(p["leg_text"]), y=px_y(row),
                                xref="paper", yref="paper", showarrow=False,
                                xanchor="left", yanchor="middle",
                                font=dict(family=SANS, size=p["leg_fs"], color="black", weight="bold")))

layout["shapes"] = shapes
layout["annotations"] = annotations
fig.update_layout(**layout)
fig.write_html("out.html", config={"displayModeBar": False},
               post_script="document.body.style.margin='0px';document.body.style.padding='0px';")
